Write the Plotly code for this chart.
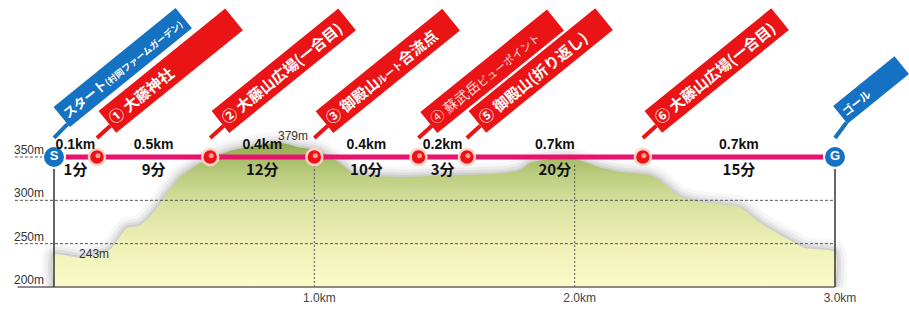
import plotly.graph_objects as go

# ---------------- data ----------------
profile_km = [0.0, 0.10, 0.215, 0.28, 0.33, 0.38, 0.434, 0.484, 0.534, 0.611, 0.688, 0.791,
              0.88, 0.945, 1.01, 1.099, 1.149, 1.329, 1.521, 1.713, 1.79, 1.828, 1.867, 1.982,
              2.097, 2.174, 2.289, 2.328, 2.405, 2.481, 2.635, 2.712, 2.827, 2.885, 3.0]
profile_m = [237, 234, 243, 268, 271, 285, 308, 327, 338, 350, 358, 364,
             366, 361, 358, 343, 331, 327, 329, 331, 335, 343, 346, 349,
             338, 333, 329, 323, 304, 298, 292, 274, 254, 245, 240]

marker_km = [0.0, 0.165, 0.6, 1.0, 1.4, 1.586, 2.262, 3.0]
seg_dist = ["0.1km", "0.5km", "0.4km", "0.4km", "0.2km", "0.7km", "0.7km"]
seg_time = ["1分", "9分", "12分", "10分", "3分", "20分", "15分"]

callout_text = [
    "スタート<span style='font-size:9px'>(村岡ファームガーデン)</span>",
    "① 大藤神社",
    "② 大藤山広場(一合目)",
    "③ 御殿山<span style='font-size:10px'>ルート</span>合流点",
    "④ 蘇武岳<span style='font-size:11px'>ビューポイント</span>",
    "⑤ 御殿山(折り返し)",
    "⑥ 大藤山広場(一合目)",
    "<span style='font-size:11px'>ゴール</span>",
]
callout_kind = ["blue", "red", "red", "red", "red", "red", "red", "blue"]

ytick_vals = [200, 250, 300, 350]
ytick_text = ["200m", "250m", "300m", "350m"]
xtick_vals = [1, 2, 3]
xtick_text = ["1.0km", "2.0km", "3.0km"]

elev_text = ["243m", "379m"]
elev_km = [0.154, 0.918]
elev_m = [237, 373]

ROUTE_M = 350
# ---------------- style ----------------
RED = "#ea1416"
BLUE = "#1572c2"
PINK = "#e8136c"
JP = "Noto Sans CJK JP"
SANS = "Liberation Sans, Arial, sans-serif"

fig = go.Figure()

edge_x = [profile_km[0]] + profile_km + [profile_km[-1]]
edge_y = [200] + profile_m + [200]

# soft shadow around the terrain
for w, a in [(22, 0.03), (15, 0.045), (9, 0.06), (4, 0.07)]:
    fig.add_trace(go.Scatter(x=edge_x, y=edge_y, mode="lines",
                             line=dict(color=f"rgba(0,0,0,{a})", width=w, shape="spline", smoothing=0.6),
                             hoverinfo="skip", showlegend=False))

# terrain fill
fig.add_trace(go.Scatter(
    x=edge_x, y=edge_y, mode="lines", fill="toself",
    line=dict(width=0, color="rgba(0,0,0,0)", shape="spline", smoothing=0.6),
    fillgradient=dict(type="vertical", start=200, stop=372,
                      colorscale=[[0, "#fafbc9"], [0.3, "#eef0b6"], [0.55, "#d9e1a0"],
                                  [0.75, "#bccd80"], [0.9, "#9fb661"], [1, "#89a54b"]]),
    hoverinfo="skip", showlegend=False))

# horizontal dashed gridlines
gx, gy = [], []
for v in ytick_vals[1:]:
    gx += [-0.15, 3.0, None]
    gy += [v, v, None]
fig.add_trace(go.Scatter(x=gx, y=gy, mode="lines",
                         line=dict(color="#555", width=1, dash="3px,2px"),
                         hoverinfo="skip", showlegend=False))
# vertical dotted gridlines
vx, vy = [], []
for v in xtick_vals[:-1]:
    vx += [v, v, None]
    vy += [200, 341, None]
fig.add_trace(go.Scatter(x=vx, y=vy, mode="lines",
                         line=dict(color="#555", width=1, dash="2px,2px"),
                         hoverinfo="skip", showlegend=False))
# baseline and side lines
fig.add_trace(go.Scatter(x=[-0.14, 3.0], y=[200, 200], mode="lines",
                         line=dict(color="#666", width=1.5), hoverinfo="skip", showlegend=False))
fig.add_trace(go.Scatter(x=[0, 0, None, 3, 3], y=[200, 345, None, 200, 345], mode="lines",
                         line=dict(color="#333", width=1.5), hoverinfo="skip", showlegend=False))

# route line
fig.add_trace(go.Scatter(x=[marker_km[0], marker_km[-1]], y=[ROUTE_M, ROUTE_M], mode="lines",
                         line=dict(color=PINK, width=5), hoverinfo="skip", showlegend=False))

# checkpoint markers
fig.add_trace(go.Scatter(x=marker_km[1:-1], y=[ROUTE_M] * (len(marker_km) - 2), mode="markers",
                         marker=dict(size=16, color=RED, line=dict(color="#ffd2c8", width=2.5)),
                         hoverinfo="skip", showlegend=False))
fig.add_trace(go.Scatter(x=[m + 0.004 for m in marker_km[1:-1]], y=[ROUTE_M + 1.5] * (len(marker_km) - 2),
                         mode="markers", marker=dict(size=5, color="rgba(255,190,190,0.8)"),
                         hoverinfo="skip", showlegend=False))
fig.add_trace(go.Scatter(x=[marker_km[0], marker_km[-1]], y=[ROUTE_M, ROUTE_M], mode="markers+text",
                         marker=dict(size=22, color=BLUE, line=dict(color="white", width=2)),
                         text=["S", "G"], textposition="middle center",
                         textfont=dict(color="white", size=13, family=SANS, weight="bold"),
                         hoverinfo="skip", showlegend=False))

# segment labels
mids = [(marker_km[i] + marker_km[i + 1]) / 2 for i in range(len(seg_dist))]
fig.add_trace(go.Scatter(x=mids, y=[363] * len(mids), mode="text", text=seg_dist,
                         textfont=dict(size=14, color="#111", family=SANS, weight="bold"),
                         hoverinfo="skip", showlegend=False))
fig.add_trace(go.Scatter(x=mids, y=[333] * len(mids), mode="text", text=seg_time,
                         textfont=dict(size=15, color="#111", family=JP, weight="bold"),
                         hoverinfo="skip", showlegend=False))
# elevation labels
fig.add_trace(go.Scatter(x=elev_km, y=elev_m, mode="text", text=elev_text,
                         textfont=dict(size=12, color="#333", family=SANS),
                         hoverinfo="skip", showlegend=False))

annotations = []
# y tick labels
for v, t in zip(ytick_vals, ytick_text):
    annotations.append(dict(x=-0.031, y=v, xref="x", yref="y", text=t, showarrow=False,
                            xanchor="right", yanchor="middle", yshift=7,
                            font=dict(size=12, color="#333", family=SANS)))
# callouts
TIP_M = 372
for km, txt, kind in zip(marker_km, callout_text, callout_kind):
    if kind == "red":
        col, w, ax, ay = RED, 156, 74, -67
        fnt = dict(size=15, color="white", family=JP, weight="bold")
        if txt.startswith("④"):
            fnt = dict(size=14, color="#ffd9d9", family=JP, weight="normal")
    else:
        col = BLUE
        if km == 0:
            w, ax, ay = 150, 69, -70
            fnt = dict(size=13, color="white", family=JP, weight="bold")
        else:
            w, ax, ay = 72, 36, -48
            fnt = dict(size=11, color="white", family=JP, weight="bold")
    annotations.append(dict(
        x=km, y=TIP_M, xref="x", yref="y", text=txt, textangle=-39,
        width=w, align="left", bgcolor=col, borderpad=3, font=fnt,
        showarrow=True, arrowhead=0, arrowwidth=4, arrowcolor=col,
        ax=ax, ay=ay, standoff=0))

fig.update_layout(
    width=909, height=309,
    margin=dict(l=0, r=0, t=0, b=20),
    paper_bgcolor="white", plot_bgcolor="white",
    showlegend=False,
    xaxis=dict(range=[-0.2074, 3.2843], showgrid=False, zeroline=False, showline=False,
               tickvals=xtick_vals, ticktext=xtick_text, ticks="", ticklabelshift=5,
               tickfont=dict(size=12, color="#444", family=SANS), fixedrange=True),
    yaxis=dict(range=[197.69, 531.15], showgrid=False, zeroline=False, showline=False,
               showticklabels=False, fixedrange=True),
    annotations=annotations,
)

fig.write_html("out.html", config={"displayModeBar": False},
               post_script="document.body.style.margin='0';document.body.style.padding='0';")
